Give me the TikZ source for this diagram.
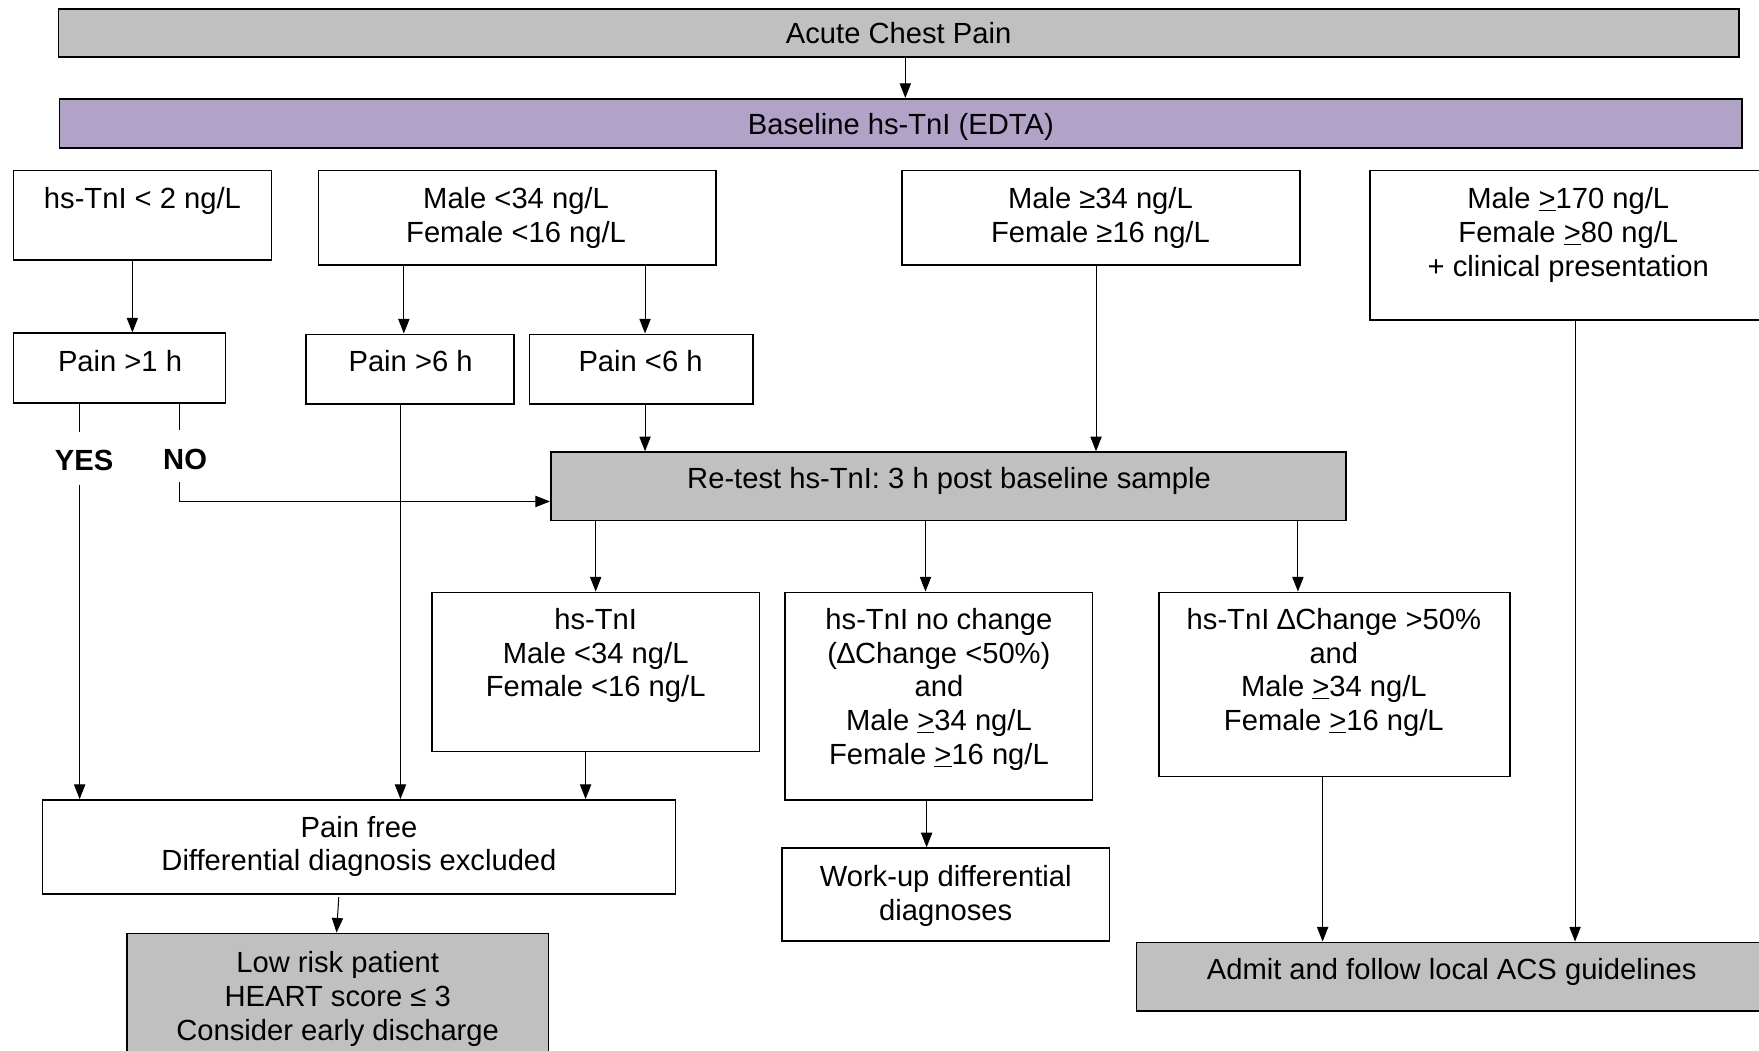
\documentclass[tikz,border=0pt]{standalone}
\usepackage{fontspec}
\setmainfont{Liberation Sans}
\usetikzlibrary{arrows.meta}
\definecolor{boxgray}{RGB}{192,192,192}
\definecolor{boxpurple}{RGB}{177,162,200}
\begin{document}
\begin{tikzpicture}[x=1pt,y=-1pt,
  bx/.style={draw=black, line width=1.4pt, rectangle, inner sep=0pt},
  gbx/.style={bx, fill=boxgray},
  pbx/.style={bx, fill=boxpurple},
  txt/.style={anchor=north, inner sep=0pt, align=center, font=\fontsize{26pt}{30pt}\selectfont},
  btxt/.style={txt, font=\fontsize{26pt}{30pt}\selectfont\bfseries},
  arr/.style={line width=0.9pt, -{Triangle[length=13pt,width=10pt]}},
  ln/.style={line width=0.9pt}]
\useasboundingbox[fill=white] (0,0) rectangle (1568,936);
\clip (0,0) rectangle (1568,936);

% boxes
\node[gbx, minimum width=1498pt, minimum height=43pt] (acp) at (801,29.5) {};
\node[pbx, minimum width=1500pt, minimum height=44pt] (base) at (803,110) {};
\node[bx, minimum width=230pt, minimum height=80pt] (t2) at (127,192) {};
\node[bx, minimum width=354pt, minimum height=84pt] (m34) at (461,194) {};
\node[bx, minimum width=355pt, minimum height=84pt] (mge) at (981.5,194) {};
\node[bx, minimum width=354pt, minimum height=133pt] (m170) at (1398,218.5) {};
\node[bx, minimum width=189pt, minimum height=62pt] (p1) at (106.5,328) {};
\node[bx, minimum width=185pt, minimum height=62pt] (p6g) at (365.5,329) {};
\node[bx, minimum width=199pt, minimum height=62pt] (p6l) at (571.5,329) {};
\node[gbx, minimum width=709pt, minimum height=61pt] (retest) at (845.5,433.5) {};
\node[bx, minimum width=292pt, minimum height=142pt] (hsn) at (531,599) {};
\node[bx, minimum width=274pt, minimum height=185pt] (noch) at (837,620.5) {};
\node[bx, minimum width=313pt, minimum height=164pt] (dch) at (1189.5,610) {};
\node[bx, minimum width=564pt, minimum height=84pt] (pf) at (320,755) {};
\node[gbx, minimum width=376pt, minimum height=113pt] (low) at (301,888.5) {};
\node[bx, minimum width=292pt, minimum height=83pt] (wu) at (843,797.5) {};
\node[gbx, minimum width=562pt, minimum height=61pt] (adm) at (1294,870.5) {};

% texts
\node[txt] (acpT) at (801,18) {\strut Acute Chest Pain};
\node[txt] (baseT) at (803,99) {\strut Baseline hs-TnI (EDTA)};
\node[txt] (t2T) at (127,165) {\strut hs-TnI < 2 ng/L};
\node[txt] (m34T) at (460,165) {\strut Male <34 ng/L\\\strut Female <16 ng/L};
\node[txt] (mgeT) at (981,165) {\strut Male ≥34 ng/L\\\strut Female ≥16 ng/L};
\node[txt] (m170T) at (1398,165) {\strut Male \underline{>}170 ng/L\\\strut Female \underline{>}80 ng/L\\\strut + clinical presentation};
\node[txt] (p1T) at (107,310) {\strut Pain >1 h};
\node[txt] (p6gT) at (366,310) {\strut Pain >6 h};
\node[txt] (p6lT) at (571,310) {\strut Pain <6 h};
\node[btxt] (yes) at (75,398) {\strut YES};
\node[btxt] (no) at (165,397) {\strut NO};
\node[txt] (retestT) at (846,414) {\strut Re-test hs-TnI: 3 h post baseline sample};
\node[txt] (hsnT) at (531,540) {\strut hs-TnI\\\strut Male <34 ng/L\\\strut Female <16 ng/L};
\node[txt] (nochT) at (837,540) {\strut hs-TnI no change\\\strut (∆Change <50\%)\\\strut and\\\strut Male \underline{>}34 ng/L\\\strut Female \underline{>}16 ng/L};
\node[txt] (dchT) at (1189,540) {\strut hs-TnI ∆Change >50\%\\\strut and\\\strut Male \underline{>}34 ng/L\\\strut Female \underline{>}16 ng/L};
\node[txt] (pfT) at (320,725) {\strut Pain free\\\strut Differential diagnosis excluded};
\node[txt] (lowT) at (301,846) {\strut Low risk patient\\\strut HEART score ≤ 3\\\strut Consider early discharge};
\node[txt] (wuT) at (843,769) {\strut Work-up differential\\\strut diagnoses};
\node[txt] (admT) at (1294,852) {\strut Admit and follow local ACS guidelines};

% helper coordinates
\coordinate (yx) at (71,0);
\coordinate (nx) at (160,0);
\coordinate (yesA) at (71,385);
\coordinate (yesB) at (71,432);
\coordinate (noA) at (160,383);
\coordinate (noB) at (160,430);
\coordinate (noC) at (160,447);
\coordinate (px) at (357,0);

% connectors
\draw[arr] ([xshift=6pt]acp.south) -- ([xshift=6pt]acp.south |- base.north);
\draw[arr] ([xshift=-9pt]t2.south) -- ([xshift=-9pt]t2.south |- p1.north);
\draw[arr] ([xshift=-5.5pt]p6g.north |- m34.south) -- ([xshift=-5.5pt]p6g.north);
\draw[arr] ([xshift=3.5pt]p6l.north |- m34.south) -- ([xshift=3.5pt]p6l.north);
\draw[ln] (p1.south -| yx) -- (yesA);
\draw[arr] (yesB) -- (pf.north -| yx);
\draw[ln] (p1.south -| nx) -- (noA);
\draw[arr] (noB) -- (noC) -- ([yshift=-13.5pt]retest.west);
\draw[arr] (p6g.south -| px) -- (pf.north -| px);
\draw[arr] ([xshift=3.5pt]p6l.south) -- ([xshift=3.5pt]p6l.south |- retest.north);
\draw[arr] ([xshift=-4.5pt]mge.south) -- ([xshift=-4.5pt]mge.south |- retest.north);
\draw[arr] (hsn.north |- retest.south) -- (hsn.north);
\draw[arr] ([xshift=-12pt]noch.north |- retest.south) -- ([xshift=-12pt]noch.north);
\draw[arr] ([xshift=-32.5pt]dch.north |- retest.south) -- ([xshift=-32.5pt]dch.north);
\draw[arr] ([xshift=-9pt]hsn.south) -- ([xshift=-9pt]hsn.south |- pf.north);
\draw[arr] ([xshift=-11pt]noch.south) -- ([xshift=-11pt]noch.south |- wu.north);
\draw[arr] ([xshift=-18pt,yshift=-2pt]pf.south) -- ([xshift=-1pt]low.north);
\draw[arr] ([xshift=-10.5pt]dch.south) -- ([xshift=-10.5pt]dch.south |- adm.north);
\draw[arr] ([xshift=6pt]m170.south) -- ([xshift=6pt]m170.south |- adm.north);
\end{tikzpicture}
\end{document}
